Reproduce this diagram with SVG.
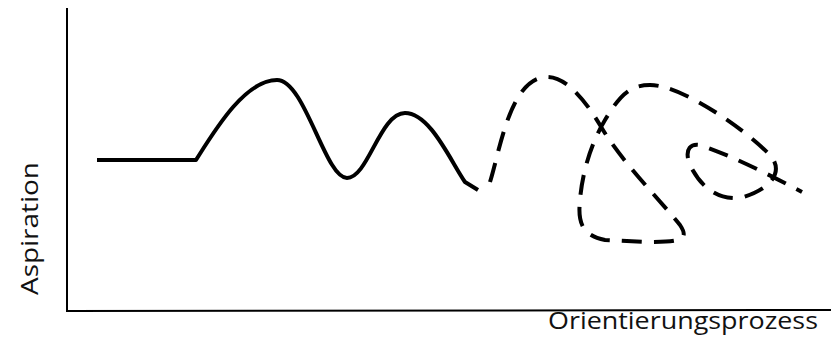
<svg xmlns="http://www.w3.org/2000/svg" width="831" height="344" viewBox="0 0 831 344">
<style>
.axis{fill:none;stroke:#000;stroke-width:2}
.curve{fill:none;stroke:#000;stroke-width:4;stroke-linecap:butt;stroke-linejoin:round}
.dash{stroke-dasharray:20 12}
.lbl{font-family:"Open Sans","Noto Sans",sans-serif;font-size:23px;fill:#111}
</style>
<rect width="831" height="344" fill="#fff"/>
<g id="axes">
<path class="axis" d="M67,8 L67,311 L831,310"/>
</g>
<g id="connectors">
<path id="solid" class="curve" d="M97,160 L196,160 C215,130 245,80 277,80 C305,80 325,178 347,178 C368,178 380,113 405,113 C430,113 450,160 465,182 L478,190"/>
<path id="dashed" class="curve dash" d="M490,182 C500,150 510,80 545,77 C565,75 585,100 600,125 C620,160 660,200 680,225 C690,240 680,242 650,242 L605,240 C580,235 578,220 580,200 C582,175 590,145 605,120 C620,95 630,85 650,85 C680,85 740,125 770,155 C785,172 770,190 740,198 C715,200 700,185 690,165 C684,150 690,143 700,145 C730,155 770,175 802,192"/>
</g>
<g id="labels">
<text class="lbl" x="548" y="329" textLength="270" lengthAdjust="spacingAndGlyphs">Orientierungsprozess</text>
<text class="lbl" transform="translate(38,295) rotate(-90)" textLength="133" lengthAdjust="spacingAndGlyphs">Aspiration</text>
</g>
</svg>
